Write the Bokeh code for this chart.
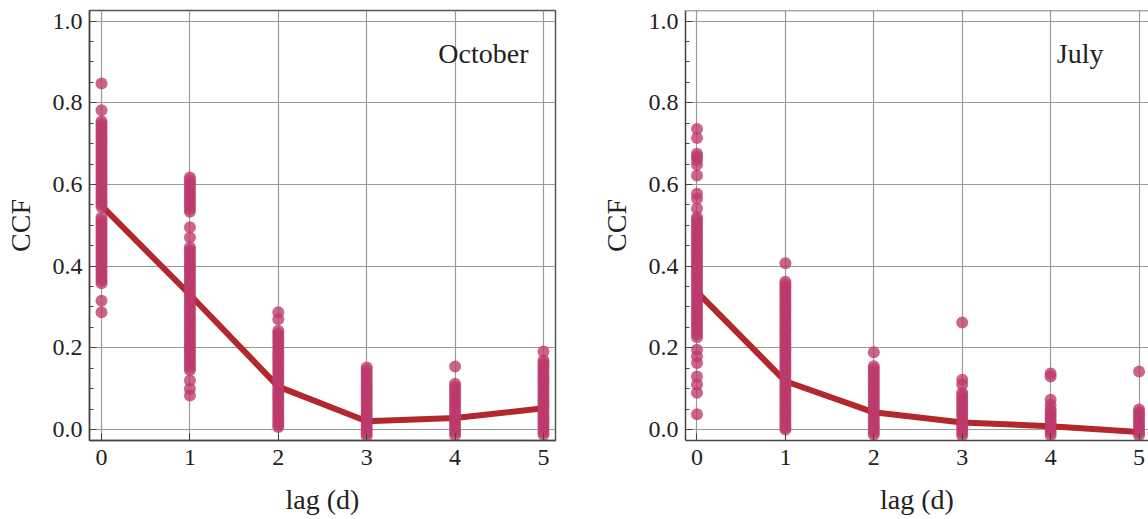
from bokeh.plotting import figure
from bokeh.layouts import row
from bokeh.models import SingleIntervalTicker, PrintfTickFormatter, Label, Span, Range1d
from bokeh.embed import file_html
from bokeh.resources import INLINE

lags = [0, 1, 2, 3, 4, 5]

# October: mean CCF per lag
oct_mean = [0.548, 0.330, 0.105, 0.020, 0.028, 0.052]
# October: individual CCF values per lag
oct_lag0 = [0.847, 0.782, 0.755, 0.748, 0.741, 0.734, 0.727, 0.720, 0.713, 0.706, 0.699,
            0.692, 0.685, 0.678, 0.671, 0.664, 0.657, 0.650, 0.643, 0.636, 0.629, 0.622,
            0.615, 0.608, 0.601, 0.594, 0.587, 0.580, 0.573, 0.566, 0.559, 0.552, 0.545,
            0.519, 0.512, 0.505, 0.498, 0.491, 0.484, 0.477, 0.470, 0.463, 0.456, 0.449,
            0.442, 0.435, 0.428, 0.421, 0.414, 0.407, 0.400, 0.393, 0.386, 0.379, 0.372,
            0.365, 0.358, 0.315, 0.287]
oct_lag1 = [0.617, 0.610, 0.603, 0.596, 0.589, 0.582, 0.575, 0.568, 0.561, 0.554, 0.547,
            0.540, 0.533, 0.495, 0.470, 0.446, 0.439, 0.432, 0.425, 0.418, 0.411, 0.404,
            0.397, 0.390, 0.383, 0.376, 0.369, 0.362, 0.355, 0.348, 0.341, 0.334, 0.327,
            0.320, 0.313, 0.306, 0.299, 0.292, 0.285, 0.278, 0.271, 0.264, 0.257, 0.250,
            0.243, 0.236, 0.229, 0.222, 0.215, 0.208, 0.201, 0.194, 0.187, 0.180, 0.173,
            0.166, 0.159, 0.152, 0.145, 0.120, 0.100, 0.083]
oct_lag2 = [0.287, 0.270, 0.242, 0.235, 0.228, 0.221, 0.214, 0.207, 0.200, 0.193, 0.186,
            0.179, 0.172, 0.165, 0.158, 0.151, 0.144, 0.137, 0.130, 0.123, 0.116, 0.109,
            0.102, 0.095, 0.088, 0.081, 0.074, 0.067, 0.060, 0.053, 0.046, 0.039, 0.032,
            0.025, 0.018, 0.011, 0.006]
oct_lag3 = [0.152, 0.145, 0.138, 0.131, 0.124, 0.117, 0.110, 0.103, 0.096, 0.089, 0.082,
            0.075, 0.068, 0.061, 0.054, 0.047, 0.040, 0.033, 0.026, 0.019, 0.012, 0.005,
            -0.002, -0.009, -0.016]
oct_lag4 = [0.154, 0.112, 0.105, 0.098, 0.091, 0.084, 0.077, 0.070, 0.063, 0.056, 0.049,
            0.042, 0.035, 0.028, 0.021, 0.014, 0.007, 0.000, -0.007, -0.014]
oct_lag5 = [0.191, 0.169, 0.162, 0.155, 0.148, 0.141, 0.134, 0.127, 0.120, 0.113, 0.106,
            0.099, 0.092, 0.085, 0.078, 0.071, 0.064, 0.057, 0.050, 0.043, 0.036, 0.029,
            0.022, 0.015, 0.008, 0.001, -0.006, -0.013]

# July: mean CCF per lag
jul_mean = [0.337, 0.118, 0.042, 0.017, 0.008, -0.006]
# July: individual CCF values per lag
jul_lag0 = [0.736, 0.714, 0.675, 0.668, 0.660, 0.648, 0.622, 0.577, 0.565, 0.541, 0.520,
            0.513, 0.506, 0.499, 0.492, 0.485, 0.478, 0.471, 0.464, 0.457, 0.450, 0.443,
            0.436, 0.429, 0.422, 0.415, 0.408, 0.401, 0.394, 0.387, 0.380, 0.373, 0.366,
            0.359, 0.352, 0.345, 0.338, 0.331, 0.324, 0.317, 0.310, 0.303, 0.296, 0.289,
            0.282, 0.275, 0.268, 0.261, 0.254, 0.247, 0.240, 0.233, 0.226, 0.195, 0.179,
            0.163, 0.130, 0.110, 0.090, 0.037]
jul_lag1 = [0.407, 0.362, 0.355, 0.348, 0.341, 0.334, 0.327, 0.320, 0.313, 0.306, 0.299,
            0.292, 0.285, 0.278, 0.271, 0.264, 0.257, 0.250, 0.243, 0.236, 0.229, 0.222,
            0.215, 0.208, 0.201, 0.194, 0.187, 0.180, 0.173, 0.166, 0.159, 0.152, 0.145,
            0.138, 0.131, 0.124, 0.117, 0.110, 0.103, 0.096, 0.089, 0.082, 0.075, 0.068,
            0.061, 0.054, 0.047, 0.040, 0.033, 0.026, 0.019, 0.012, 0.005, 0.000]
jul_lag2 = [0.189, 0.155, 0.148, 0.141, 0.134, 0.127, 0.120, 0.113, 0.106, 0.099, 0.092,
            0.085, 0.078, 0.071, 0.064, 0.057, 0.050, 0.043, 0.036, 0.029, 0.022, 0.015,
            0.008, 0.001, -0.006, -0.013]
jul_lag3 = [0.262, 0.122, 0.110, 0.090, 0.083, 0.076, 0.069, 0.062, 0.055, 0.048, 0.041,
            0.034, 0.027, 0.020, 0.013, 0.006, -0.001, -0.008, -0.015]
jul_lag4 = [0.137, 0.130, 0.073, 0.060, 0.049, 0.042, 0.035, 0.028, 0.021, 0.014, 0.007,
            0.000, -0.007, -0.014]
jul_lag5 = [0.142, 0.049, 0.042, 0.035, 0.028, 0.021, 0.014, 0.007, 0.000, -0.007, -0.014]

titles = ["October", "July"]
y_label = "CCF"
x_label = "lag (d)"

FONT = "Liberation Serif"
TXT = "#222222"
PT = "#bd3a6b"
LN = "#b3282d"


def make_panel(series, means, title, width, left, right, xr, label_x, is_right):
    p = figure(width=width, height=519, output_backend="svg", toolbar_location=None,
               x_range=Range1d(*xr), y_range=Range1d(-0.027, 1.026),
               min_border_left=left, min_border_right=right, min_border_top=10,
               min_border_bottom=79)
    p.line(lags, means, line_color=LN, line_width=6)
    for lag, vals in zip(lags, series):
        p.scatter([lag] * len(vals), vals, size=12, fill_color=PT, fill_alpha=0.78,
                  line_color=None)

    p.xaxis.ticker = SingleIntervalTicker(interval=1, num_minor_ticks=0)
    p.yaxis.ticker = SingleIntervalTicker(interval=0.2, num_minor_ticks=4)
    p.yaxis.formatter = PrintfTickFormatter(format="%.1f")
    for ax in (p.xaxis[0], p.yaxis[0]):
        ax.major_tick_in = 7
        ax.major_tick_out = 0
        ax.minor_tick_in = 4
        ax.minor_tick_out = 0
        ax.axis_line_color = "#444444"
        ax.axis_line_width = 1.5
        ax.major_tick_line_color = "#444444"
        ax.minor_tick_line_color = "#444444"
        ax.major_label_text_font = FONT
        ax.major_label_text_font_size = "24px"
        ax.major_label_text_color = TXT
        ax.axis_label_text_font = FONT
        ax.axis_label_text_font_size = "28px"
        ax.axis_label_text_font_style = "normal"
        ax.axis_label_text_color = TXT
    p.xaxis.minor_tick_line_color = None
    p.xaxis.axis_label = x_label
    p.yaxis.axis_label = y_label
    p.xaxis.major_label_standoff = 9
    p.yaxis.major_label_standoff = 7
    p.xaxis.axis_label_standoff = 16
    p.yaxis.axis_label_standoff = 14

    p.xgrid.ticker = p.xaxis.ticker
    p.grid.grid_line_color = "#9a9a9a"
    p.grid.grid_line_width = 1.2
    p.background_fill_color = "white"
    p.border_fill_color = "white"
    if is_right:
        p.outline_line_color = None
        p.add_layout(Span(location=1.026, dimension="width", line_color="#555555",
                          line_width=1.5))
    else:
        p.outline_line_color = "#555555"
        p.outline_line_width = 1.5

    p.add_layout(Label(x=label_x, y=0.92, text=title, text_font=FONT,
                       text_font_size="28px", text_color=TXT, text_align="left",
                       text_baseline="alphabetic"))
    return p


p1 = make_panel([oct_lag0, oct_lag1, oct_lag2, oct_lag3, oct_lag4, oct_lag5], oct_mean,
                titles[0], 590, 89, 35, (-0.136, 5.136), 3.81, False)
p2 = make_panel([jul_lag0, jul_lag1, jul_lag2, jul_lag3, jul_lag4, jul_lag5], jul_mean,
                titles[1], 558, 95, 0, (-0.13, 5.107), 4.07, True)

layout = row(p1, p2)
open("out.html", "w").write(file_html(layout, INLINE))
